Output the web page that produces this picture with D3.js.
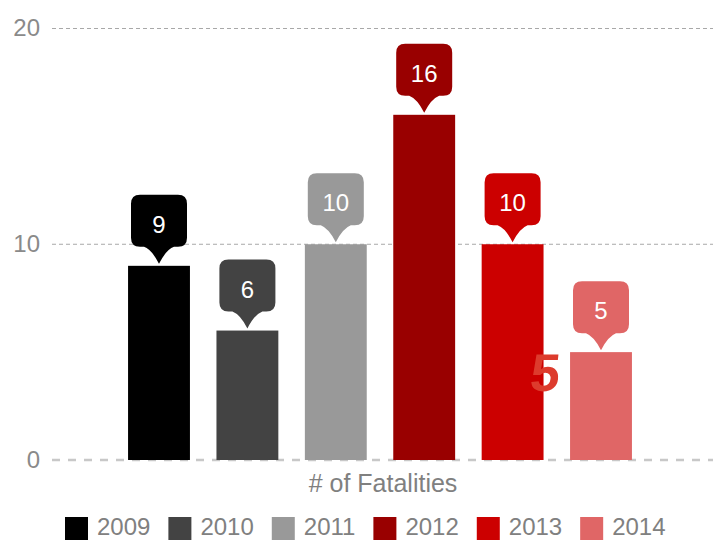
<!DOCTYPE html>
<html>
<head>
<meta charset="utf-8">
<script src="https://cdn.jsdelivr.net/npm/d3@7"></script>
<style>
  html, body { margin: 0; padding: 0; background: #fff; overflow: hidden; }
  svg { display: block; font-family: "Liberation Sans", Arial, sans-serif; }
</style>
</head>
<body>
<div id="vis-holder"></div>
<script>
// Chart data
const years = ["2009", "2010", "2011", "2012", "2013", "2014"];
const fatalities = [9, 6, 10, 16, 10, 5];
const barColors = ["#000000", "#434343", "#999999", "#990000", "#cc0000", "#e06666"];
const yTicks = [0, 10, 20];
const axisTitle = "# of Fatalities";
const strayLabel = "5";

// Set dimensions
const width = 713;
const height = 542;

const svg = d3.select("#vis-holder")
              .append("svg")
              .attr("width", width)
              .attr("height", height);

// Scales
const x = d3.scaleBand()
            .domain(years)
            .range([114.8, 645.2])
            .paddingInner(0.3)
            .paddingOuter(0.15);

const y = d3.scaleLinear()
            .domain([0, 20])
            .range([460, 28.5]);

const color = d3.scaleOrdinal()
                .domain(years)
                .range(barColors);

// Gridlines (0 line is the baseline, drawn heavier)
svg.append("g")
   .selectAll("line")
   .data(yTicks)
   .enter()
   .append("line")
     .attr("x1", 52)
     .attr("x2", width)
     .attr("y1", d => y(d))
     .attr("y2", d => y(d))
     .attr("stroke", d => d === 0 ? "#c8c8c8" : "#a8a8a8")
     .attr("stroke-width", d => d === 0 ? 2.5 : 1)
     .attr("stroke-dasharray", d => d === 0 ? "8,8" : "4,3");

// Y tick labels
svg.append("g")
   .selectAll("text")
   .data(yTicks)
   .enter()
   .append("text")
     .attr("x", 40)
     .attr("y", d => y(d))
     .attr("dy", "0.33em")
     .attr("text-anchor", "end")
     .attr("font-size", "24px")
     .attr("fill", "#8a8a8a")
     .text(d => d);

// Bars
svg.append("g")
   .selectAll("rect")
   .data(years)
   .enter()
   .append("rect")
     .attr("x", d => x(d))
     .attr("y", (d, i) => y(fatalities[i]))
     .attr("width", x.bandwidth())
     .attr("height", (d, i) => y(0) - y(fatalities[i]))
     .attr("fill", d => color(d));

// Callout bubbles above each bar
function bubblePath(cx, top) {
  const l = cx - 28, r = cx + 28, bt = top - 71, bb = top - 19, rad = 9, tip = top - 2;
  return `M${l + rad},${bt} H${r - rad} Q${r},${bt} ${r},${bt + rad} V${bb - rad} Q${r},${bb} ${r - rad},${bb}` +
         ` H${cx + 15} Q${cx + 7},${bb + 3} ${cx},${tip} Q${cx - 7},${bb + 3} ${cx - 15},${bb}` +
         ` H${l + rad} Q${l},${bb} ${l},${bb - rad} V${bt + rad} Q${l},${bt} ${l + rad},${bt} Z`;
}

const callouts = svg.append("g")
   .selectAll("g")
   .data(years)
   .enter()
   .append("g");

callouts.append("path")
   .attr("d", (d, i) => bubblePath(x(d) + x.bandwidth() / 2, y(fatalities[i])))
   .attr("fill", d => color(d));

callouts.append("text")
   .attr("x", d => x(d) + x.bandwidth() / 2)
   .attr("y", (d, i) => y(fatalities[i]) - 33)
   .attr("text-anchor", "middle")
   .attr("font-size", "24px")
   .attr("fill", "#fff")
   .text((d, i) => fatalities[i]);

// Stray overlay label next to the 2014 bar (slight slant)
const sx = x("2013") + x.bandwidth();
svg.append("text")
   .attr("transform", `translate(${sx},391) skewX(-6)`)
   .attr("text-anchor", "middle")
   .attr("font-size", "53px")
   .attr("font-weight", "bold")
   .attr("fill", "#dd3b2d")
   .text(strayLabel);

// Axis title
svg.append("text")
   .attr("x", 383)
   .attr("y", 492)
   .attr("text-anchor", "middle")
   .attr("font-size", "25px")
   .attr("fill", "#808080")
   .text(axisTitle);

// Legend (nudged up a little so the labels are not clipped)
const legend = svg.append("g");
let lx = 65;
years.forEach((yr) => {
  legend.append("rect")
        .attr("x", lx)
        .attr("y", 517)
        .attr("width", 23)
        .attr("height", 23)
        .attr("fill", color(yr));
  const t = legend.append("text")
        .attr("x", lx + 32)
        .attr("y", 535)
        .attr("font-size", "24px")
        .attr("fill", "#808080")
        .text(yr);
  lx += 32 + t.node().getComputedTextLength() + 18;
});
</script>
</body>
</html>
